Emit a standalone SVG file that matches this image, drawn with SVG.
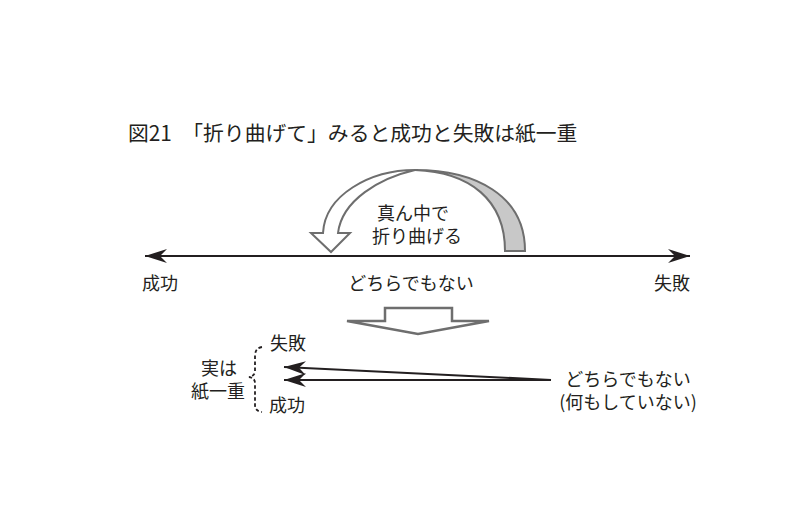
<svg xmlns="http://www.w3.org/2000/svg" width="800" height="521" viewBox="0 0 800 521">
<style>
text{font-family:"Noto Sans CJK JP","Noto Sans",sans-serif;fill:#231f20;font-size:18px;font-weight:400}
.title{font-size:20.8px}
.c{text-anchor:middle}
.ln{stroke:#231f20;stroke-width:2.2;fill:none}
.gr{stroke:#6e6e6e;stroke-width:2;stroke-linejoin:miter}
</style>
<defs>
<marker id="ah" viewBox="0 0 22 14" refX="22" refY="7" markerWidth="22" markerHeight="14" markerUnits="userSpaceOnUse" orient="auto-start-reverse">
<path d="M22,7 L0,0 L7,7 L0,14 Z" fill="#231f20"/>
</marker>
</defs>
<rect width="800" height="521" fill="#fff"/>
<g id="title"><text class="title" x="128" y="141">図21　「折り曲げて」みると成功と失敗は紙一重</text></g>
<g id="connectors">
<line class="ln" x1="145" y1="256" x2="690" y2="256" marker-start="url(#ah)" marker-end="url(#ah)"/>
<line class="ln" x1="551" y1="380" x2="284" y2="367" marker-end="url(#ah)"/>
<line class="ln" x1="551" y1="380" x2="284" y2="380" marker-end="url(#ah)"/>
</g>
<g id="fold-arrow">
<path class="gr" fill="#fff" d="M415,170 C370,170 325,195 323,233 L311,233 L331,252 L350,233 L338,233 C342,200 380,178 415,170 Z"/>
<path class="gr" fill="#c8c8c8" d="M415,170 C475,170 525,195 525,251 L505,251 C505,200 470,172 415,170 Z"/>
</g>
<g id="fold-label">
<text class="c" x="413" y="220">真ん中で</text>
<text class="c" x="417" y="243">折り曲げる</text>
</g>
<g id="success"><text x="142" y="290">成功</text></g>
<g id="neither"><text class="c" x="411" y="290">どちらでもない</text></g>
<g id="failure"><text x="654" y="290">失敗</text></g>
<g id="down-arrow">
<path fill="#fff" stroke="#6e6e6e" stroke-width="2.5" stroke-linejoin="miter" d="M385,308 L452,308 L452,321 L489,321 L418,334 L347,321 L385,321 Z"/>
</g>
<g id="brace">
<path fill="none" stroke="#231f20" stroke-width="1.8" stroke-dasharray="3.5 2.5" d="M262,347 Q255,348 255,356 L255,371 Q255,376 249,377 Q255,378 255,383 L255,405 Q255,411 262,412"/>
</g>
<g id="paper-thin">
<text class="c" x="219" y="375">実は</text>
<text class="c" x="218" y="398">紙一重</text>
</g>
<g id="failure2"><text x="270" y="350">失敗</text></g>
<g id="success2"><text x="269" y="412">成功</text></g>
<g id="nothing">
<text class="c" x="628" y="386">どちらでもない</text>
<text class="c" x="628" y="409">(何もしていない)</text>
</g>
</svg>
